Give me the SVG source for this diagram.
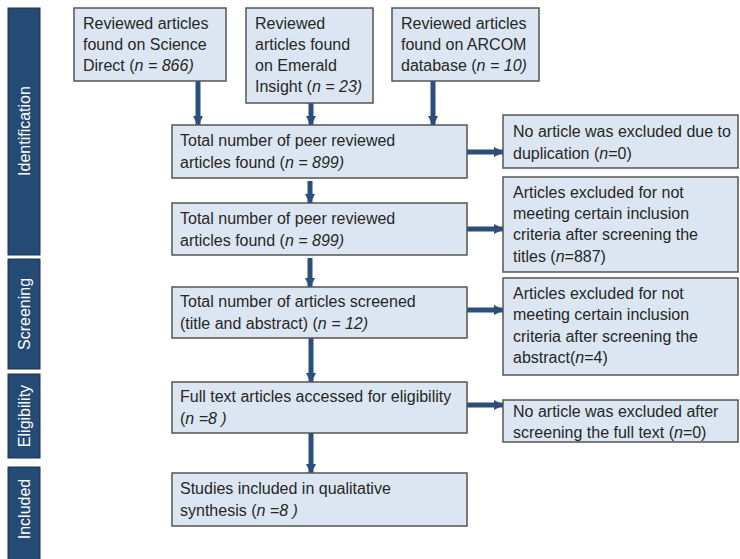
<svg xmlns="http://www.w3.org/2000/svg" width="740" height="559" viewBox="0 0 740 559">
  <style>
    .box { fill: #dce6f2; stroke: #555555; stroke-width: 1.5; }
    .bar { fill: #254a76; stroke: #1a3352; stroke-width: 1; }
    .t { font-family: "Liberation Sans", Arial, sans-serif; font-size: 16px; fill: #262626; }
    .lbl { font-family: "Liberation Sans", Arial, sans-serif; font-size: 16px; fill: #ffffff; text-anchor: middle; dominant-baseline: central; }
    .i { font-style: italic; }
    .c { fill: none; stroke: #2b4f7c; stroke-width: 5; }
  </style>
  <defs>
    <marker id="head" viewBox="0 0 10 10" refX="9" refY="5" markerWidth="2" markerHeight="2" orient="auto" markerUnits="strokeWidth">
      <path d="M0,0 L10,5 L0,10 Z" fill="#2b4f7c"/>
    </marker>
  </defs>
  <rect width="740" height="559" fill="#ffffff"/>

  <!-- stage bars -->
  <g id="stage-identification">
    <rect class="bar" x="8" y="8" width="32" height="247"/>
    <text class="lbl" transform="translate(24,131) rotate(-90)">Identification</text>
  </g>
  <g id="stage-screening">
    <rect class="bar" x="8" y="259" width="32" height="110"/>
    <text class="lbl" transform="translate(24,314) rotate(-90)">Screening</text>
  </g>
  <g id="stage-eligibility">
    <rect class="bar" x="8" y="374" width="32" height="84"/>
    <text class="lbl" transform="translate(24,416) rotate(-90)">Eligibility</text>
  </g>
  <g id="stage-included">
    <rect class="bar" x="8" y="467" width="32" height="100"/>
    <text class="lbl" transform="translate(24,509) rotate(-90)">Included</text>
  </g>

  <!-- connectors -->
  <g id="connectors">
    <line class="c" x1="198" y1="81" x2="198" y2="125" marker-end="url(#head)"/>
    <line class="c" x1="311" y1="103" x2="311" y2="125" marker-end="url(#head)"/>
    <line class="c" x1="433" y1="81" x2="433" y2="125" marker-end="url(#head)"/>
    <line class="c" x1="467" y1="152" x2="503" y2="152" marker-end="url(#head)"/>
    <line class="c" x1="310" y1="181" x2="310" y2="203" marker-end="url(#head)"/>
    <line class="c" x1="467" y1="229" x2="503" y2="229" marker-end="url(#head)"/>
    <line class="c" x1="310" y1="258" x2="310" y2="287" marker-end="url(#head)"/>
    <line class="c" x1="467" y1="310" x2="503" y2="310" marker-end="url(#head)"/>
    <line class="c" x1="311" y1="338" x2="311" y2="382" marker-end="url(#head)"/>
    <line class="c" x1="467" y1="405" x2="503" y2="405" marker-end="url(#head)"/>
    <line class="c" x1="311" y1="433" x2="311" y2="473" marker-end="url(#head)"/>
  </g>

  <!-- source boxes -->
  <g id="src-sciencedirect">
    <rect class="box" x="74" y="8" width="152" height="73"/>
    <text class="t" x="83" y="29">Reviewed articles</text>
    <text class="t" x="83" y="50">found on Science</text>
    <text class="t" x="83" y="71">Direct (<tspan class="i">n = 866)</tspan></text>
  </g>
  <g id="src-emerald">
    <rect class="box" x="246" y="8" width="127" height="95"/>
    <text class="t" x="255" y="29">Reviewed</text>
    <text class="t" x="255" y="50">articles found</text>
    <text class="t" x="255" y="71">on Emerald</text>
    <text class="t" x="255" y="92">Insight (<tspan class="i">n = 23)</tspan></text>
  </g>
  <g id="src-arcom">
    <rect class="box" x="392" y="8" width="147" height="73"/>
    <text class="t" x="401" y="29">Reviewed articles</text>
    <text class="t" x="401" y="50">found on ARCOM</text>
    <text class="t" x="401" y="71">database (<tspan class="i">n = 10)</tspan></text>
  </g>

  <!-- main flow -->
  <g id="total-found">
    <rect class="box" x="172" y="125" width="295" height="53"/>
    <text class="t" x="180" y="146">Total number of peer reviewed</text>
    <text class="t" x="180" y="168">articles found (<tspan class="i">n = 899)</tspan></text>
  </g>
  <g id="total-found-2">
    <rect class="box" x="172" y="203" width="295" height="52"/>
    <text class="t" x="180" y="224">Total number of peer reviewed</text>
    <text class="t" x="180" y="246">articles found (<tspan class="i">n = 899)</tspan></text>
  </g>
  <g id="screened">
    <rect class="box" x="172" y="287" width="295" height="51"/>
    <text class="t" x="180" y="307">Total number of articles screened</text>
    <text class="t" x="180" y="329">(title and abstract) (<tspan class="i">n = 12)</tspan></text>
  </g>
  <g id="eligibility">
    <rect class="box" x="172" y="382" width="295" height="51"/>
    <text class="t" x="180" y="402">Full text articles accessed for eligibility</text>
    <text class="t" x="180" y="424">(<tspan class="i">n =8 )</tspan></text>
  </g>
  <g id="included">
    <rect class="box" x="172" y="473" width="295" height="53"/>
    <text class="t" x="180" y="494">Studies included in qualitative</text>
    <text class="t" x="180" y="516">synthesis (<tspan class="i">n =8 )</tspan></text>
  </g>

  <!-- exclusion boxes -->
  <g id="excl-duplicates">
    <rect class="box" x="503" y="115" width="235" height="53"/>
    <text class="t" x="513" y="137">No article was excluded due to</text>
    <text class="t" x="513" y="159">duplication  (<tspan class="i">n</tspan>=0)</text>
  </g>
  <g id="excl-titles">
    <rect class="box" x="503" y="177" width="235" height="95"/>
    <text class="t" x="513" y="198">Articles excluded for not</text>
    <text class="t" x="513" y="219">meeting certain inclusion</text>
    <text class="t" x="513" y="240">criteria after screening the</text>
    <text class="t" x="513" y="262">titles (<tspan class="i">n</tspan>=887)</text>
  </g>
  <g id="excl-abstract">
    <rect class="box" x="503" y="278" width="235" height="97"/>
    <text class="t" x="513" y="299">Articles excluded for not</text>
    <text class="t" x="513" y="320">meeting certain inclusion</text>
    <text class="t" x="513" y="342">criteria after screening the</text>
    <text class="t" x="513" y="363">abstract(<tspan class="i">n</tspan>=4)</text>
  </g>
  <g id="excl-fulltext">
    <rect class="box" x="503" y="400" width="235" height="42"/>
    <text class="t" x="513" y="417">No article was excluded after</text>
    <text class="t" x="513" y="438">screening the full text (<tspan class="i">n</tspan>=0)</text>
  </g>
</svg>
